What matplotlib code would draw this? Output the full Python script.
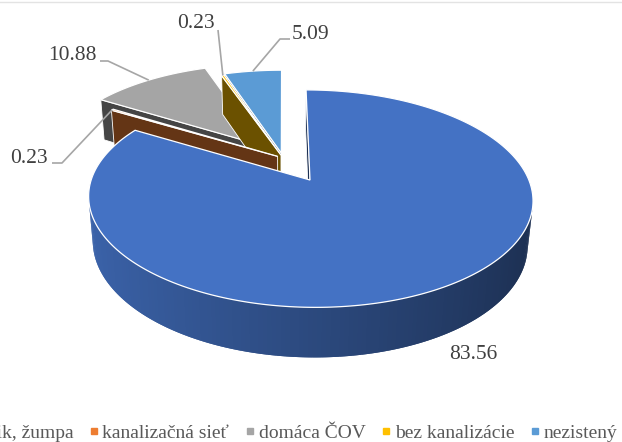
import numpy as np
import matplotlib.pyplot as plt
from matplotlib.patches import Polygon
from matplotlib.lines import Line2D
from matplotlib.colors import to_rgb

plt.rcParams['font.family'] = ['Liberation Serif', 'DejaVu Serif']

# data
categories = ['septik, žumpa', 'kanalizačná sieť', 'domáca ČOV', 'bez kanalizácie', 'nezistený']
values = [83.56, 0.23, 10.88, 0.23, 5.09]
colors = ['#4472C4', '#ED7D31', '#A5A5A5', '#FFC000', '#5B9BD5']
explode = [0.25, 0.03, 0.17, 0.03, 0.05]

# where the label text sits (px) and the elbow of its leader line
label_text = [(473, 359, 'center'), (48, 163, 'right'), (97, 60, 'right'),
              (215, 28, 'right'), (292, 39, 'left')]
leader_elbow = [[], [(52, 163), (62, 163)], [(100, 61), (108, 61)],
                [(218, 30)], [(290, 39), (280, 39)]]

# camera for the 3d look
K = 211.0
TILT = np.radians(27.7)
DIST = 5.36
CX, CY = 283.0, 157.9
H = 0.236
CAM = np.array([0.0, -DIST * np.cos(TILT), DIST * np.sin(TILT)])


def proj(x, y, z):
    x = np.asarray(x, float)
    y = np.asarray(y, float)
    z = np.asarray(z, float)
    depth = DIST + y * np.cos(TILT) - z * np.sin(TILT)
    up = y * np.sin(TILT) + z * np.cos(TILT)
    return CX + K * DIST * x / depth, CY - K * DIST * up / depth


def shade(c, f):
    r, g, b = to_rgb(c)
    return (r * f, g * f, b * f)


def visible(normal, point):
    return np.dot(normal, CAM - np.array(point)) > 0


fig = plt.figure(figsize=(6.22, 4.42), dpi=100)
ax = fig.add_axes([0, 0, 1, 1])
ax.set_xlim(0, 622)
ax.set_ylim(442, 0)
ax.axis('off')

total = sum(values)
edges = np.cumsum([0] + values) / total * 2 * np.pi

slices = []
for i in range(len(values)):
    t0, t1 = edges[i], edges[i + 1]
    tm = (t0 + t1) / 2
    ox, oy = explode[i] * np.sin(tm), explode[i] * np.cos(tm)
    slices.append((i, t0, t1, tm, ox, oy))

# far slices first
slices.sort(key=lambda s: -(s[5] + 0.5 * np.cos(s[3])))

z = 2
for i, t0, t1, tm, ox, oy in slices:
    col = colors[i]
    n = max(int(np.degrees(t1 - t0)), 2)
    th = np.linspace(t0, t1, n + 1)
    rx, ry = ox + np.sin(th), oy + np.cos(th)

    # outer side, small overlapping strips so no seams show
    for j in range(n):
        a = (th[j] + th[j + 1]) / 2
        nrm = np.array([np.sin(a), np.cos(a), 0])
        p = [ox + np.sin(a), oy + np.cos(a), -H / 2]
        if not visible(nrm, p):
            continue
        k2 = min(j + 2, n)
        xs = [rx[j], rx[k2], rx[k2], rx[j]]
        ys = [ry[j], ry[k2], ry[k2], ry[j]]
        zs = [0, 0, -H, -H]
        px, py = proj(xs, ys, zs)
        fc = shade(col, 0.64 - 0.23 * np.sin(a))
        ax.add_patch(Polygon(np.column_stack([px, py]), closed=True, fc=fc, ec='none',
                             lw=0, zorder=z))
    z += 1

    # cut faces
    for t, nrm in [(t0, np.array([-np.cos(t0), np.sin(t0), 0])),
                   (t1, np.array([np.cos(t1), -np.sin(t1), 0]))]:
        p = [ox + 0.5 * np.sin(t), oy + 0.5 * np.cos(t), -H / 2]
        if not visible(nrm, p):
            continue
        xs = [ox, ox + np.sin(t), ox + np.sin(t), ox]
        ys = [oy, oy + np.cos(t), oy + np.cos(t), oy]
        zs = [0, 0, -H, -H]
        px, py = proj(xs, ys, zs)
        ax.add_patch(Polygon(np.column_stack([px, py]), closed=True,
                             fc=shade(col, 0.42), ec='white', lw=0.6, zorder=z))
    z += 1

    # top
    px, py = proj(np.r_[ox, rx], np.r_[oy, ry], np.zeros(n + 2))
    ax.add_patch(Polygon(np.column_stack([px, py]), closed=True, fc=col, ec='white',
                         lw=0.9, zorder=z))
    z += 1

# labels with leader lines
for i in range(len(values)):
    t0, t1 = edges[i], edges[i + 1]
    tm = (t0 + t1) / 2
    ox, oy = explode[i] * np.sin(tm), explode[i] * np.cos(tm)
    x, y, ha = label_text[i]
    ax.text(x, y, f'{values[i]:.2f}', ha=ha, va='baseline', fontsize=15.5,
            color='#404040', zorder=50)
    if leader_elbow[i]:
        ex, ey = proj(ox + np.sin(tm), oy + np.cos(tm), 0)
        pts = leader_elbow[i] + [(float(ex), float(ey))]
        ax.plot([p[0] for p in pts], [p[1] for p in pts], color='#A6A6A6', lw=1.2,
                zorder=49, solid_capstyle='butt')

# thin chart border on top
ax.plot([0, 622], [1.5, 1.5], color='#E3E3E3', lw=1, zorder=1)

handles = [Line2D([], [], marker='s', color=c, linestyle='none', markersize=5)
           for c in colors]
ax.legend(handles, categories, ncol=5, loc='center right',
          bbox_to_anchor=(617 / 622, 1 - 433 / 442), frameon=False, fontsize=14,
          handlelength=0.6, handletextpad=0.15, columnspacing=0.75,
          borderpad=0, borderaxespad=0, labelcolor='#595959')

fig.savefig('out.png', dpi=100)
